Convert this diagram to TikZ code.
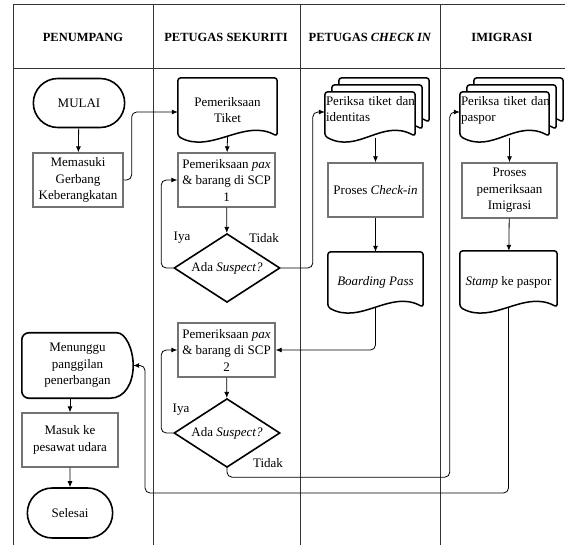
\documentclass[tikz,border=0pt]{standalone}
\usepackage{fontspec}
\setmainfont{Liberation Serif}
\usetikzlibrary{shapes.geometric,shapes.misc,arrows.meta,backgrounds}
\def\docframe[#1](#2)(#3){\draw[#1] ([shift={(#3pt,#3pt)}]#2.north west) -- ([shift={(#3pt,#3pt)}]#2.north east) -- ([shift={(#3pt,#3pt+6pt)}]#2.south east) .. controls +(-33pt,18pt) and +(33pt,-18pt) .. ([shift={(#3pt,#3pt+6pt)}]#2.south west) -- cycle;}
\tikzset{
	garis/.style={draw=black!80, line width=0.9pt},
	judul/.style={font=\bfseries\fontsize{12.5}{15}\selectfont},
	teks/.style={font=\fontsize{13}{16.5}\selectfont, align=center},
	proses/.style={teks, draw=black!55, line width=1.3pt, inner sep=1pt},
	terminal/.style={teks, rounded rectangle, draw, line width=1.6pt},
	keputusan/.style={teks, diamond, draw, line width=1.6pt, aspect=1.33, inner sep=1pt, minimum width=106pt},
	dokumen/.style={teks, inner sep=1pt},
	bingkai/.style={draw, line width=1.5pt, fill=white, rounded corners=3pt},
	tebal/.style={draw, line width=1.6pt},
	alir/.style={-{Latex[length=6pt,width=5pt]}, line width=0.8pt, rounded corners=5pt}
}
\begin{document}
\begin{tikzpicture}[x=1pt, y=-1pt]
			%%%%% LANES %%%%%
			\useasboundingbox (0,0) rectangle (565,545);
			\draw[garis] (13,4) -- (565,4);
			\draw[garis] (13,68) -- (565,68);
			\foreach \x in {13,153,300,440} \draw[garis] (\x,4) -- (\x,545);
			
			\node[judul] (penumpang) at (83,37) {PENUMPANG};
			\node[judul] (sekuriti) at (226,37) {PETUGAS SEKURITI};
			\node[judul] (checkinjudul) at (370,37) {PETUGAS \textit{CHECK IN}};
			\node[judul] (imigrasijudul) at (502,37) {IMIGRASI};
			
			%%%%% PENUMPANG %%%%%
			\node[terminal, minimum width=98pt, minimum height=49pt] (mulai) at (79,103) {MULAI};
			\node[proses, minimum width=90pt, minimum height=54pt] (gerbang) at (78,180) {Memasuki\\Gerbang\\Keberangkatan};
			\node[teks, minimum width=111pt, minimum height=65pt] (tunggu) at (77.5,365.5) {Menunggu\\panggilan\\penerbangan};
			\draw[tebal] ([xshift=-23pt]tunggu.north east) .. controls +(15pt,0pt) and +(0pt,17pt) .. (tunggu.east) .. controls +(0pt,-17pt) and +(15pt,0pt) .. ([xshift=-23pt]tunggu.south east) [rounded corners=7pt] -- (tunggu.south west) -- (tunggu.north west) -- cycle;
			\node[proses, minimum width=96pt, minimum height=54pt] (masuk) at (70,440) {Masuk ke\\pesawat udara};
			\node[terminal, minimum width=92pt, minimum height=50pt] (selesai) at (70,513) {Selesai};
			
			%%%%% PETUGAS SEKURITI %%%%%
			\node[dokumen, minimum width=99pt, minimum height=64pt] (tiket) at (227.5,110) {Pemeriksaan\\Tiket};
			\node[proses, minimum width=97pt, minimum height=54pt] (scp1) at (226.5,180) {Pemeriksaan \textit{pax}\\\& barang di SCP\\1};
			\node[keputusan] (ada1) at (227,268) {Ada \textit{Suspect?}};
			\node[proses, minimum width=97pt, minimum height=54pt] (scp2) at (226.5,350) {Pemeriksaan \textit{pax}\\\& barang di SCP\\2};
			\node[keputusan] (ada2) at (227,433) {Ada \textit{Suspect?}};
			\node[teks] (iya1) at (182,238) {Iya};
			\node[teks] (tidak1) at (264,238) {Tidak};
			\node[teks] (iya2) at (181,410) {Iya};
			\node[teks] (tidak2) at (268,463) {Tidak};
			
			%%%%% PETUGAS CHECK IN %%%%%
			\node[dokumen, text width=88pt, align=left, minimum height=50pt] (identitas) at (370,117) {\mbox{Periksa tiket dan}\\identitas\\~};
			\node[proses, minimum width=95pt, minimum height=54pt] (checkin) at (375.5,190) {Proses \textit{Check-in}};
			\node[dokumen, minimum width=95pt, minimum height=61pt] (boarding) at (375.5,282.5) {\textit{Boarding Pass}};
			
			%%%%% IMIGRASI %%%%%
			\node[dokumen, text width=87pt, align=left, minimum height=50pt] (paspor) at (504.5,117) {\mbox{Periksa tiket dan}\\paspor\\~};
			\node[proses, minimum width=95pt, minimum height=55pt] (imigrasi) at (509.5,190.5) {Proses\\pemeriksaan\\Imigrasi};
			\node[dokumen, minimum width=97pt, minimum height=62pt] (stamp) at (508.5,282) {\textit{Stamp} ke paspor};
			
			\begin{pgfonlayer}{background}
				\docframe[bingkai](tiket)(0)
				\docframe[bingkai](identitas)(14)
				\docframe[bingkai](identitas)(7)
				\docframe[bingkai](identitas)(0)
				\docframe[bingkai](paspor)(14)
				\docframe[bingkai](paspor)(7)
				\docframe[bingkai](paspor)(0)
				\docframe[bingkai](boarding)(0)
				\docframe[bingkai](stamp)(0)
			\end{pgfonlayer}
			
			%%%%% ALUR %%%%%
			\draw[alir] (mulai) -- (gerbang);
			\draw[alir] (gerbang.east) -- ++(8,0) |- ([yshift=-2pt]tiket.west);
			\draw[alir] ([yshift=6pt]tiket.south) -- (scp1);
			\draw[alir] (scp1) -- (ada1);
			\draw[alir] (ada1.west) -- ++(-12,0) |- (scp1.west);
			\draw[alir] (ada1.east) -- ++(32,0) |- ([yshift=5pt]identitas.west);
			\path (checkin.north |- identitas.south) ++(0,-4) coordinate (identitasbawah);
			\draw[alir] (identitasbawah) -- (checkin);
			\draw[alir] (checkin) -- (boarding);
			\draw[alir] ([yshift=6pt]boarding.south) |- (scp2.east);
			\draw[alir] (scp2) -- (ada2);
			\draw[alir] (ada2.west) -- ++(-12,0) |- (scp2.west);
			\draw[alir] (ada2.south) -- ++(0,9) -| ([xshift=-10pt,yshift=5pt]paspor.west) -- ([yshift=5pt]paspor.west);
			\path (imigrasi.north |- paspor.south) ++(0,-4) coordinate (paspraw);
			\draw[alir] (paspraw) -- (imigrasi);
			\draw[alir] (imigrasi) -- (stamp);
			\draw[alir] ([yshift=6pt]stamp.south) |- (145,493) |- (tunggu.east);
			\path (masuk.north |- tunggu.south) coordinate (tunggubawah);
			\draw[alir] (tunggubawah) -- (masuk);
			\draw[alir] (masuk) -- (selesai);
\end{tikzpicture}
\end{document}
